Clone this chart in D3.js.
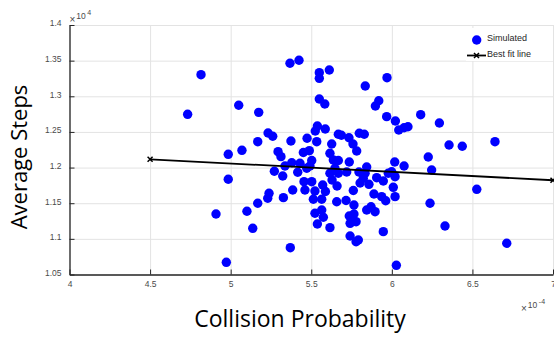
<!DOCTYPE html>
<html>
<head>
<meta charset="utf-8">
<script src="https://cdn.jsdelivr.net/npm/d3@7"></script>
<style>
  html, body { margin: 0; padding: 0; background: #fff; }
  svg { display: block; }
</style>
</head>
<body>
<svg id="chart" width="554" height="339"></svg>
<script>
// Collision probability per run, in units of 1e-4
const collisionProb = [
  4.816, 4.733, 5.050, 5.174, 5.368, 5.424, 5.232, 5.261, 5.374, 5.474,
  5.168, 5.070, 4.985, 5.294, 5.312, 5.451, 5.379, 5.550, 5.550, 5.612,
  5.835, 5.970, 5.550, 5.584, 5.919, 5.898, 5.968, 6.022, 6.179, 6.295,
  6.043, 6.076, 6.100, 5.538, 5.525, 5.587, 5.668, 5.687, 5.734, 5.798,
  5.829, 5.534, 5.627, 5.759, 5.782, 6.355, 6.437, 6.640, 5.488, 5.616,
  5.637, 5.668, 5.503, 5.736, 5.844, 6.018, 6.076, 6.226, 6.247, 5.492,
  5.430, 5.337, 5.271, 5.323, 5.416, 5.472, 5.647, 5.616, 5.668, 5.629,
  5.660, 5.720, 5.796, 5.834, 5.823, 5.906, 5.947, 5.978, 5.999, 6.020,
  5.455, 5.503, 5.571, 5.461, 5.523, 5.588, 5.858, 6.009, 5.761, 5.803,
  5.889, 5.937, 5.962, 6.020, 5.513, 5.565, 5.658, 5.716, 5.765, 6.237,
  5.844, 5.871, 5.896, 5.523, 5.565, 5.575, 5.736, 5.765, 5.778, 5.741,
  5.538, 5.616, 6.330, 5.947, 5.741, 5.792, 5.778, 6.713, 6.028, 4.985,
  5.385, 5.327, 5.238, 5.230, 5.168, 5.101, 4.909, 5.137, 5.370, 4.973,
  6.527
];

// Average number of steps per run
const avgSteps = [
  13303, 12747, 12874, 12775, 13463, 13505, 12485, 12439, 12373, 12411,
  12363, 12242, 12186, 12223, 12153, 12212, 12068, 13331, 13252, 13369,
  13144, 13261, 12962, 12892, 12938, 12864, 12714, 12653, 12742, 12625,
  12527, 12559, 12573, 12583, 12513, 12541, 12467, 12453, 12419, 12481,
  12467, 12363, 12331, 12331, 12233, 12317, 12299, 12363, 12237, 12200,
  12106, 12099, 12099, 12078, 12008, 12078, 12022, 12148, 11966, 12022,
  12060, 12022, 11948, 11882, 11934, 11990, 11990, 11920, 11920, 11826,
  11742, 11938, 11938, 11920, 11850, 11858, 11812, 11920, 11942, 11872,
  11802, 11802, 11756, 11686, 11672, 11665, 11765, 11723, 11679, 11784,
  11629, 11592, 11535, 11592, 11555, 11555, 11521, 11538, 11475, 11499,
  11405, 11451, 11381, 11359, 11405, 11303, 11321, 11349, 11241, 11218,
  11209, 11157, 11181, 11101, 11040, 10984, 10960, 10938, 10629, 11836,
  11686, 11578, 11639, 11569, 11499, 11387, 11349, 11148, 10876, 10671,
  11695
];

// Least-squares fit, drawn between its two end points
const fitProb = [4.5, 7];
const fitSteps = [12116, 11822];

// Axis ticks
const xTicks = [4, 4.5, 5, 5.5, 6, 6.5, 7];
const xTickLabels = ["4", "4.5", "5", "5.5", "6", "6.5", "7"];
const yTicks = [10500, 11000, 11500, 12000, 12500, 13000, 13500, 14000];
const yTickLabels = ["1.05", "1.1", "1.15", "1.2", "1.25", "1.3", "1.35", "1.4"];

const legendLabels = ["Simulated", "Best fit line"];

const svg = d3.select("#chart");
const plotLeft = 69.5, plotRight = 553, plotTop = 25, plotBottom = 274.5;

const x = d3.scaleLinear().domain([4, 7]).range([plotLeft, plotRight]);
const y = d3.scaleLinear().domain([10500, 14000]).range([plotBottom, plotTop]);

const tickFont = "'Liberation Sans', Arial, sans-serif";
const tickColor = "#4a4a4a";

// Grid lines
const grid = svg.append("g");
grid.append("g")
  .attr("transform", `translate(0,${plotBottom})`)
  .call(d3.axisBottom(x).tickValues(xTicks).tickSize(-(plotBottom - plotTop)).tickFormat(""))
  .call(g => g.select(".domain").remove())
  .call(g => g.selectAll("line").attr("stroke", "#e3e3e3").attr("stroke-width", 1));
grid.append("g")
  .attr("transform", `translate(${plotLeft},0)`)
  .call(d3.axisLeft(y).tickValues(yTicks).tickSize(-(plotRight - plotLeft)).tickFormat(""))
  .call(g => g.select(".domain").remove())
  .call(g => g.selectAll("line").attr("stroke", "#e3e3e3").attr("stroke-width", 1));

// Axes
const xAxis = svg.append("g")
  .attr("transform", `translate(0,${plotBottom})`)
  .call(d3.axisBottom(x).tickValues(xTicks).tickSizeInner(-5).tickSizeOuter(0)
    .tickPadding(6).tickFormat((d, i) => xTickLabels[i]));
const yAxis = svg.append("g")
  .attr("transform", `translate(${plotLeft},0)`)
  .call(d3.axisLeft(y).tickValues(yTicks).tickSizeInner(-5).tickSizeOuter(0)
    .tickPadding(8).tickFormat((d, i) => yTickLabels[i]));

[xAxis, yAxis].forEach(a => {
  a.select(".domain").attr("stroke", "#262626").attr("stroke-width", 1.3);
  a.selectAll(".tick line").attr("stroke", "#262626").attr("stroke-width", 1);
  a.selectAll(".tick text")
    .attr("font-family", tickFont)
    .attr("font-size", 8.5)
    .attr("fill", tickColor);
});
yAxis.selectAll(".tick text").attr("dy", "0.1em");
xAxis.selectAll(".tick text").attr("dy", "0.8em");

// Exponent labels (×10^n)
function exponent(xPos, yPos, power) {
  const t = svg.append("text")
    .attr("x", xPos).attr("y", yPos)
    .attr("font-family", tickFont)
    .attr("fill", tickColor);
  t.append("tspan").attr("font-size", 10).text("\u00d7");
  t.append("tspan").attr("font-size", 8.5).attr("dx", 1).attr("dy", -4).text("10");
  t.append("tspan").attr("font-size", 7).attr("dx", 1.5).attr("dy", -4).text(power);
}
exponent(69.5, 23, "4");
exponent(521, 312, "-4");

// Scatter points
const points = collisionProb.map((p, i) => ({ p, s: avgSteps[i] }));
svg.append("g")
  .selectAll("circle")
  .data(points)
  .join("circle")
  .attr("cx", d => x(d.p))
  .attr("cy", d => y(d.s))
  .attr("r", 4.7)
  .attr("fill", "#0000ff");

// Best fit line with cross markers at its ends
const fit = fitProb.map((p, i) => ({ p, s: fitSteps[i] }));
svg.append("path")
  .datum(fit)
  .attr("d", d3.line().x(d => x(d.p)).y(d => y(d.s)))
  .attr("fill", "none")
  .attr("stroke", "#000")
  .attr("stroke-width", 1.8);
svg.append("g")
  .selectAll("path")
  .data(fit)
  .join("path")
  .attr("transform", d => `translate(${x(d.p)},${y(d.s)})`)
  .attr("d", "M-2.5,-2.5L2.5,2.5M-2.5,2.5L2.5,-2.5")
  .attr("stroke", "#000")
  .attr("stroke-width", 1.5);

// Legend
const legend = svg.append("g").attr("transform", "translate(466,28)");
legend.append("rect").attr("width", 87).attr("height", 33).attr("fill", "#fff");
legend.append("circle").attr("cx", 10.7).attr("cy", 12).attr("r", 4.7).attr("fill", "#0000ff");
legend.append("line").attr("x1", 1).attr("x2", 20).attr("y1", 27.5).attr("y2", 27.5)
  .attr("stroke", "#000").attr("stroke-width", 1.8);
legend.append("path").attr("transform", "translate(10.5,27.5)")
  .attr("d", "M-2.5,-2.5L2.5,2.5M-2.5,2.5L2.5,-2.5")
  .attr("stroke", "#000").attr("stroke-width", 1.5);
legend.selectAll("text.lbl")
  .data(legendLabels)
  .join("text")
  .attr("class", "lbl")
  .attr("x", 21)
  .attr("y", (d, i) => 9.5 + i * 16)
  .attr("dy", "0.35em")
  .attr("font-family", tickFont)
  .attr("font-size", 9)
  .attr("fill", "#262626")
  .text(d => d);

// Axis titles
const titleFont = "'Open Sans', Lato, sans-serif";
svg.append("text")
  .attr("x", 300)
  .attr("y", 327)
  .attr("text-anchor", "middle")
  .attr("font-family", titleFont)
  .attr("font-size", 23)
  .attr("fill", "#000")
  .text("Collision Probability");
svg.append("text")
  .attr("transform", "translate(26.5,157) rotate(-90)")
  .attr("text-anchor", "middle")
  .attr("font-family", titleFont)
  .attr("font-size", 22)
  .attr("fill", "#000")
  .text("Average Steps");
</script>
</body>
</html>
